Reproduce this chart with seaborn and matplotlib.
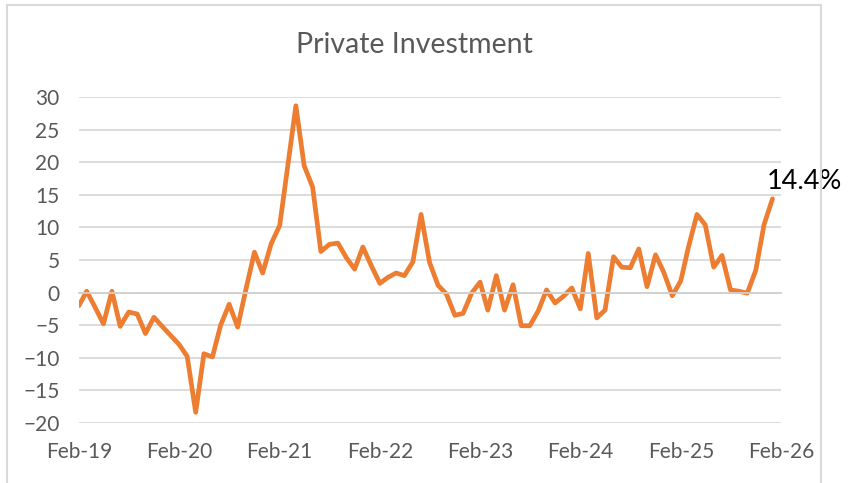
import pandas as pd
import numpy as np
import matplotlib
matplotlib.use("Agg")
import matplotlib.pyplot as plt
import matplotlib.dates as mdates
import seaborn as sns
from matplotlib.patches import Rectangle

# monthly private investment growth, Feb-19 .. Jan-26
values = [
    -2.0, 0.2, -2.3, -4.8, 0.2, -5.2, -3.0, -3.3, -6.3, -3.8, -5.2, -6.6,
    -8.0, -9.8, -18.4, -9.4, -9.9, -5.0, -1.8, -5.3, 0.5, 6.2, 3.0, 7.5,
    10.3, 19.0, 28.7, 19.5, 16.2, 6.3, 7.4, 7.6, 5.4, 3.6, 7.0, 4.1,
    1.4, 2.3, 3.0, 2.6, 4.7, 12.0, 4.6, 1.1, -0.2, -3.5, -3.2, -0.1,
    1.6, -2.7, 2.6, -2.7, 1.2, -5.1, -5.1, -2.8, 0.4, -1.6, -0.6, 0.7,
    -2.5, 6.0, -3.9, -2.7, 5.5, 3.9, 3.8, 6.7, 0.9, 5.8, 3.1, -0.5,
    1.8, 7.0, 12.0, 10.4, 3.9, 5.7, 0.4, 0.2, -0.1, 3.4, 10.4, 14.4,
]
dates = pd.date_range("2019-02-01", periods=len(values), freq="MS")
df = pd.DataFrame({"Date": dates, "Value": values})

title = "Private Investment"
last_label = "14.4%"
yticks = [-20, -15, -10, -5, 0, 5, 10, 15, 20, 25, 30]

sns.set_style("white")
plt.rcParams["font.family"] = ["Lato", "DejaVu Sans"]
grey = "#595959"

fig = plt.figure(figsize=(8.52, 4.83), dpi=100)
ax = fig.add_axes([79 / 852, 1 - 422.7 / 483, (781 - 79) / 852, (422.7 - 97.3) / 483])

sns.lineplot(data=df, x="Date", y="Value", ax=ax, color="#ED7D31",
             linewidth=3.4, solid_joinstyle="round", solid_capstyle="round")

ax.set_ylim(-20, 30)
ax.set_xlim(pd.Timestamp("2019-02-01"), pd.Timestamp("2026-02-01"))
ax.set_yticks(yticks)
ax.yaxis.grid(True, color="#d9d9d9", linewidth=1.3)
ax.set_axisbelow(True)
ax.tick_params(axis="y", length=0, pad=14, labelsize=15, labelcolor=grey)
for s in ["left", "right", "top"]:
    ax.spines[s].set_visible(False)

# category axis crosses at zero, labels sit low
ax.spines["bottom"].set_position(("data", 0))
ax.spines["bottom"].set_color("#d0d0d0")
ax.spines["bottom"].set_linewidth(1.3)
ticks = pd.date_range("2019-02-01", "2026-02-01", freq="12MS")
ax.set_xticks(ticks)
ax.tick_params(axis="x", direction="out", length=5, width=1.3, color="#d0d0d0",
               labelbottom=False)
ax.set_xlabel("")
ax.set_ylabel("")

sec = ax.secondary_xaxis("bottom")
sec.set_xticks(ticks)
sec.xaxis.set_major_formatter(mdates.DateFormatter("%b-%y"))
sec.tick_params(length=0, pad=14, labelsize=15, labelcolor=grey)
for s in sec.spines.values():
    s.set_visible(False)

ax.annotate(last_label, xy=(df["Date"].iloc[-1], df["Value"].iloc[-1]),
            xytext=(-6, 17), textcoords="offset pixels", ha="left", va="center",
            fontsize=19.5, color="black", annotation_clip=False)

fig.text(414 / 852, 1 - 45 / 483, title, ha="center", va="center",
         fontsize=20.5, color=grey)

fig.patches.append(Rectangle((7 / 852, -0.05), (821 - 7) / 852, 1.05 - 5 / 483,
                             transform=fig.transFigure, fill=False,
                             edgecolor="#d9d9d9", linewidth=1.5, zorder=0))

fig.savefig("out.png", dpi=100)
